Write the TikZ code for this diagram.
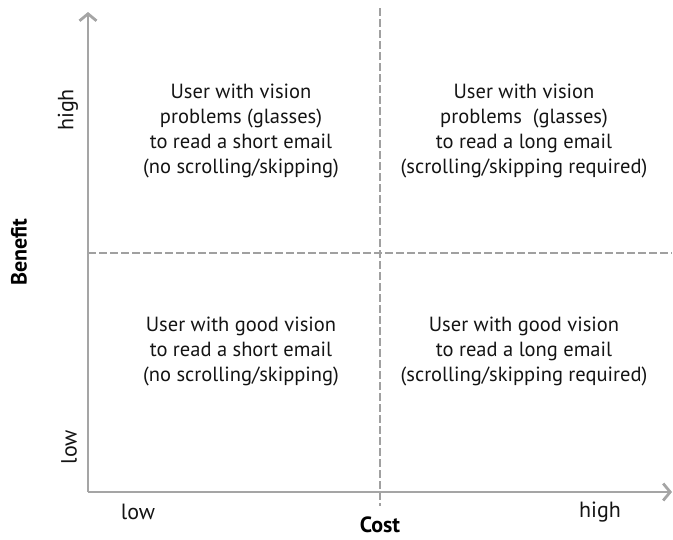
\documentclass[tikz,border=0pt]{standalone}
\usepackage{fontspec}
\setmainfont{PT Sans}
\usetikzlibrary{arrows.meta}
\definecolor{axisgray}{RGB}{165,165,165}
\definecolor{splitgray}{RGB}{160,160,160}
\definecolor{labeltext}{RGB}{20,20,20}

\begin{document}
\begin{tikzpicture}[x=1pt,y=-1pt,
  axis/.style={draw=axisgray,line width=2.8pt,-{Straight Barb[length=7pt,width=17pt]}},
  split/.style={draw=splitgray,line width=1.8pt,dash pattern=on 8pt off 3pt},
  quadrant/.style={align=center,text=labeltext,font=\fontsize{20.5}{25}\selectfont},
  ticklabel/.style={text=labeltext,font=\fontsize{22}{24}\selectfont},
  axislabel/.style={font=\fontsize{22}{24}\selectfont\bfseries}]
  \useasboundingbox (0,0) rectangle (673,539);
  \coordinate (origin) at (88,492);
  \coordinate (ytip) at (88,12);
  \coordinate (xtip) at (672,492);
  % quadrant split
  \draw[split] (380,8) -- (380,506);
  \draw[split] (88,253) -- (672,253);
  % axes
  \draw[axis] (origin) -- (ytip);
  \draw[axis] (origin) -- (xtip);
  \node[axislabel,rotate=90] (benefit) at (19,252) {Benefit};
  \node[axislabel] (cost) at (380,525) {Cost};
  \node[ticklabel,rotate=90] (bhigh) at (68,110) {high};
  \node[ticklabel,rotate=90] (blow) at (69,447) {low};
  \node[ticklabel] (clow) at (138,512) {low};
  \node[ticklabel] (chigh) at (600,512) {high};
  % quadrants
  \node[quadrant] (tl) at (241,131) {User with vision\\problems (glasses)\\to read a short email\\(no scrolling/skipping)};
  \node[quadrant] (tr) at (524,131) {User with vision\\problems\ \ (glasses)\\to read a long email\\(scrolling/skipping required)};
  \node[quadrant] (bl) at (241,351) {User with good vision\\to read a short email\\(no scrolling/skipping)};
  \node[quadrant] (br) at (524,351) {User with good vision\\to read a long email\\(scrolling/skipping required)};
\end{tikzpicture}
\end{document}
